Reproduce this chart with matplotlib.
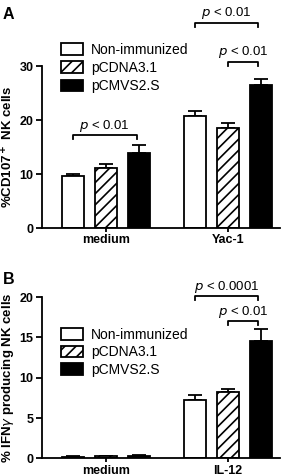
import numpy as np
import matplotlib
matplotlib.use("Agg")
import matplotlib.pyplot as plt

plt.rcParams['font.family'] = ['Liberation Sans', 'DejaVu Sans']
plt.rcParams['hatch.linewidth'] = 1.2

groups = ["Non-immunized", "pCDNA3.1", "pCMVS2.S"]

# panel A: %CD107+ NK cells
a_conditions = ["medium", "Yac-1"]
a_means = [[9.6, 20.8], [11.2, 18.6], [13.9, 26.5]]
a_err = [[0.5, 0.9], [0.6, 0.8], [1.4, 1.2]]

# panel B: % IFN-gamma producing NK cells
b_conditions = ["medium", "IL-12"]
b_means = [[0.2, 7.2], [0.25, 8.2], [0.35, 14.6]]
b_err = [[0.05, 0.7], [0.1, 0.4], [0.1, 1.4]]

fills = ["white", "white", "black"]
hatches = [None, "///", None]
offsets = [-0.27, 0.0, 0.27]
width = 0.18

fig = plt.figure(figsize=(2.88, 4.76), dpi=100)
axA = fig.add_axes([0.146, 0.521, 0.826, 0.340])
axB = fig.add_axes([0.146, 0.037, 0.826, 0.339])


def draw_bars(ax, means, errs):
    x = np.arange(2)
    for i in range(3):
        ax.bar(x + offsets[i], means[i], width, color=fills[i], edgecolor="black",
               linewidth=1.3, hatch=hatches[i], label=groups[i], zorder=2)
        ax.errorbar(x + offsets[i], means[i], yerr=[np.zeros(2), errs[i]], fmt="none",
                    ecolor="black", elinewidth=1.3, capsize=5, capthick=1.3, zorder=1)


def bracket(ax, x1, x2, y, h, label):
    ax.plot([x1, x1, x2, x2], [y - h, y, y, y - h], color="black", lw=1.3,
            clip_on=False)
    ax.text((x1 + x2) / 2, y + h * 0.4, label, ha="center", va="bottom",
            fontsize=9.5, clip_on=False)


def style(ax, ylim, yticks, labels, ylabel):
    ax.set_xlim(-0.525, 1.426)
    ax.set_ylim(*ylim)
    ax.set_yticks(yticks)
    ax.set_xticks([0, 1])
    ax.set_xticklabels(labels, fontweight="bold", fontsize=9)
    ax.tick_params(axis="y", labelsize=9, width=1.3, length=4, pad=2)
    ax.tick_params(axis="x", length=3, width=1.3, pad=1.5)
    for lab in ax.get_yticklabels():
        lab.set_fontweight("bold")
    for s in ["top", "right"]:
        ax.spines[s].set_visible(False)
    for s in ["left", "bottom"]:
        ax.spines[s].set_linewidth(1.3)
    ax.set_ylabel(ylabel, fontweight="bold", fontsize=9.5, labelpad=3)


draw_bars(axA, a_means, a_err)
style(axA, (0, 30), [0, 10, 20, 30], a_conditions, "%CD107$^{\\bf +}$ NK cells")
bracket(axA, -0.27, 0.25, 17.2, 0.7, "$\\it{p}$ < 0.01")
bracket(axA, 0.73, 1.25, 38.0, 0.7, "$\\it{p}$ < 0.01")
bracket(axA, 1.0, 1.25, 30.8, 0.7, "$\\it{p}$ < 0.01")
axA.legend(loc="upper left", bbox_to_anchor=(0.055, 1.18), frameon=False,
           fontsize=10, handlelength=1.6, handleheight=0.9, handletextpad=0.6,
           labelspacing=0.32, borderaxespad=0)
fig.text(0.01, 0.985, "A", fontsize=11.5, fontweight="bold", va="top")

draw_bars(axB, b_means, b_err)
style(axB, (0, 20), [0, 5, 10, 15, 20], b_conditions,
      "% IFN$\\gamma$ producing NK cells")
bracket(axB, 0.73, 1.25, 20.1, 0.5, "$\\it{p}$ < 0.0001")
bracket(axB, 1.0, 1.25, 17.0, 0.5, "$\\it{p}$ < 0.01")
axB.legend(loc="upper left", bbox_to_anchor=(0.055, 0.845), frameon=False,
           fontsize=10, handlelength=1.6, handleheight=0.9, handletextpad=0.6,
           labelspacing=0.25, borderaxespad=0)
fig.text(0.01, 0.428, "B", fontsize=11.5, fontweight="bold", va="top")

fig.savefig("out.png", dpi=100)
